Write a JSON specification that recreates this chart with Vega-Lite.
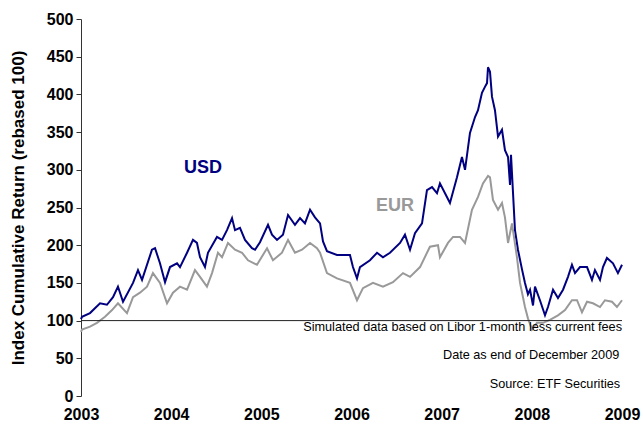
{
  "$schema": "https://vega.github.io/schema/vega-lite/v6.json",
  "width": 541,
  "height": 377,
  "autosize": {"type": "none"},
  "padding": {"left": 81, "top": 19, "right": 21, "bottom": 34},
  "background": "white",
  "config": {
    "view": {"stroke": null},
    "font": "Liberation Sans",
    "axis": {"grid": false, "labelFont": "Liberation Sans", "titleFont": "Liberation Sans"}
  },
  "resolve": {"axis": {"x": "independent", "y": "independent"}},
  "datasets": {
    "series": [
      {"series": "USD", "t": 2003.000, "v": 102},
      {"series": "USD", "t": 2003.011, "v": 105},
      {"series": "USD", "t": 2003.100, "v": 110},
      {"series": "USD", "t": 2003.211, "v": 123},
      {"series": "USD", "t": 2003.288, "v": 121},
      {"series": "USD", "t": 2003.355, "v": 131},
      {"series": "USD", "t": 2003.410, "v": 145},
      {"series": "USD", "t": 2003.466, "v": 125},
      {"series": "USD", "t": 2003.577, "v": 150},
      {"series": "USD", "t": 2003.632, "v": 167},
      {"series": "USD", "t": 2003.677, "v": 154},
      {"series": "USD", "t": 2003.787, "v": 194},
      {"series": "USD", "t": 2003.821, "v": 196},
      {"series": "USD", "t": 2003.876, "v": 176},
      {"series": "USD", "t": 2003.932, "v": 151},
      {"series": "USD", "t": 2003.987, "v": 171},
      {"series": "USD", "t": 2004.065, "v": 176},
      {"series": "USD", "t": 2004.098, "v": 171},
      {"series": "USD", "t": 2004.176, "v": 190},
      {"series": "USD", "t": 2004.242, "v": 207},
      {"series": "USD", "t": 2004.286, "v": 203},
      {"series": "USD", "t": 2004.320, "v": 184},
      {"series": "USD", "t": 2004.375, "v": 171},
      {"series": "USD", "t": 2004.408, "v": 190},
      {"series": "USD", "t": 2004.508, "v": 211},
      {"series": "USD", "t": 2004.564, "v": 207},
      {"series": "USD", "t": 2004.619, "v": 220},
      {"series": "USD", "t": 2004.675, "v": 236},
      {"series": "USD", "t": 2004.708, "v": 220},
      {"series": "USD", "t": 2004.763, "v": 223},
      {"series": "USD", "t": 2004.819, "v": 207},
      {"series": "USD", "t": 2004.896, "v": 196},
      {"series": "USD", "t": 2004.930, "v": 194},
      {"series": "USD", "t": 2004.985, "v": 204},
      {"series": "USD", "t": 2005.074, "v": 227},
      {"series": "USD", "t": 2005.118, "v": 214},
      {"series": "USD", "t": 2005.174, "v": 207},
      {"series": "USD", "t": 2005.240, "v": 214},
      {"series": "USD", "t": 2005.296, "v": 240},
      {"series": "USD", "t": 2005.373, "v": 227},
      {"series": "USD", "t": 2005.429, "v": 236},
      {"series": "USD", "t": 2005.484, "v": 229},
      {"series": "USD", "t": 2005.540, "v": 247},
      {"series": "USD", "t": 2005.595, "v": 237},
      {"series": "USD", "t": 2005.651, "v": 229},
      {"series": "USD", "t": 2005.684, "v": 205},
      {"series": "USD", "t": 2005.728, "v": 192},
      {"series": "USD", "t": 2005.839, "v": 187},
      {"series": "USD", "t": 2005.983, "v": 187},
      {"series": "USD", "t": 2006.016, "v": 171},
      {"series": "USD", "t": 2006.061, "v": 156},
      {"series": "USD", "t": 2006.094, "v": 171},
      {"series": "USD", "t": 2006.205, "v": 180},
      {"series": "USD", "t": 2006.283, "v": 190},
      {"series": "USD", "t": 2006.349, "v": 184},
      {"series": "USD", "t": 2006.427, "v": 190},
      {"series": "USD", "t": 2006.538, "v": 203},
      {"series": "USD", "t": 2006.593, "v": 214},
      {"series": "USD", "t": 2006.649, "v": 194},
      {"series": "USD", "t": 2006.704, "v": 216},
      {"series": "USD", "t": 2006.782, "v": 229},
      {"series": "USD", "t": 2006.837, "v": 273},
      {"series": "USD", "t": 2006.893, "v": 277},
      {"series": "USD", "t": 2006.948, "v": 269},
      {"series": "USD", "t": 2006.981, "v": 282},
      {"series": "USD", "t": 2007.037, "v": 269},
      {"series": "USD", "t": 2007.092, "v": 256},
      {"series": "USD", "t": 2007.170, "v": 290},
      {"series": "USD", "t": 2007.225, "v": 317},
      {"series": "USD", "t": 2007.259, "v": 300},
      {"series": "USD", "t": 2007.314, "v": 349},
      {"series": "USD", "t": 2007.370, "v": 370},
      {"series": "USD", "t": 2007.403, "v": 379},
      {"series": "USD", "t": 2007.447, "v": 402},
      {"series": "USD", "t": 2007.480, "v": 410},
      {"series": "USD", "t": 2007.503, "v": 415},
      {"series": "USD", "t": 2007.514, "v": 436},
      {"series": "USD", "t": 2007.536, "v": 430},
      {"series": "USD", "t": 2007.558, "v": 397},
      {"series": "USD", "t": 2007.591, "v": 379},
      {"series": "USD", "t": 2007.625, "v": 344},
      {"series": "USD", "t": 2007.669, "v": 353},
      {"series": "USD", "t": 2007.702, "v": 326},
      {"series": "USD", "t": 2007.736, "v": 317},
      {"series": "USD", "t": 2007.758, "v": 280},
      {"series": "USD", "t": 2007.769, "v": 320},
      {"series": "USD", "t": 2007.813, "v": 220},
      {"series": "USD", "t": 2007.846, "v": 194},
      {"series": "USD", "t": 2007.891, "v": 168},
      {"series": "USD", "t": 2007.924, "v": 150},
      {"series": "USD", "t": 2007.957, "v": 135},
      {"series": "USD", "t": 2007.980, "v": 141},
      {"series": "USD", "t": 2008.013, "v": 120},
      {"series": "USD", "t": 2008.035, "v": 145},
      {"series": "USD", "t": 2008.090, "v": 127},
      {"series": "USD", "t": 2008.146, "v": 107},
      {"series": "USD", "t": 2008.179, "v": 118},
      {"series": "USD", "t": 2008.235, "v": 141},
      {"series": "USD", "t": 2008.290, "v": 130},
      {"series": "USD", "t": 2008.346, "v": 141},
      {"series": "USD", "t": 2008.401, "v": 158},
      {"series": "USD", "t": 2008.445, "v": 174},
      {"series": "USD", "t": 2008.479, "v": 163},
      {"series": "USD", "t": 2008.534, "v": 171},
      {"series": "USD", "t": 2008.612, "v": 171},
      {"series": "USD", "t": 2008.667, "v": 154},
      {"series": "USD", "t": 2008.700, "v": 167},
      {"series": "USD", "t": 2008.756, "v": 154},
      {"series": "USD", "t": 2008.789, "v": 171},
      {"series": "USD", "t": 2008.833, "v": 183},
      {"series": "USD", "t": 2008.900, "v": 176},
      {"series": "USD", "t": 2008.955, "v": 163},
      {"series": "USD", "t": 2009.000, "v": 174},
      {"series": "EUR", "t": 2003.000, "v": 85},
      {"series": "EUR", "t": 2003.011, "v": 88},
      {"series": "EUR", "t": 2003.100, "v": 92},
      {"series": "EUR", "t": 2003.177, "v": 97},
      {"series": "EUR", "t": 2003.266, "v": 105},
      {"series": "EUR", "t": 2003.344, "v": 114},
      {"series": "EUR", "t": 2003.410, "v": 123},
      {"series": "EUR", "t": 2003.510, "v": 110},
      {"series": "EUR", "t": 2003.577, "v": 131},
      {"series": "EUR", "t": 2003.654, "v": 137},
      {"series": "EUR", "t": 2003.732, "v": 145},
      {"series": "EUR", "t": 2003.798, "v": 163},
      {"series": "EUR", "t": 2003.876, "v": 150},
      {"series": "EUR", "t": 2003.954, "v": 123},
      {"series": "EUR", "t": 2004.020, "v": 137},
      {"series": "EUR", "t": 2004.098, "v": 145},
      {"series": "EUR", "t": 2004.176, "v": 141},
      {"series": "EUR", "t": 2004.264, "v": 167},
      {"series": "EUR", "t": 2004.320, "v": 158},
      {"series": "EUR", "t": 2004.397, "v": 145},
      {"series": "EUR", "t": 2004.453, "v": 163},
      {"series": "EUR", "t": 2004.519, "v": 190},
      {"series": "EUR", "t": 2004.564, "v": 184},
      {"series": "EUR", "t": 2004.630, "v": 203},
      {"series": "EUR", "t": 2004.708, "v": 194},
      {"series": "EUR", "t": 2004.786, "v": 190},
      {"series": "EUR", "t": 2004.852, "v": 180},
      {"series": "EUR", "t": 2004.952, "v": 174},
      {"series": "EUR", "t": 2005.063, "v": 196},
      {"series": "EUR", "t": 2005.129, "v": 180},
      {"series": "EUR", "t": 2005.229, "v": 190},
      {"series": "EUR", "t": 2005.296, "v": 207},
      {"series": "EUR", "t": 2005.373, "v": 190},
      {"series": "EUR", "t": 2005.451, "v": 194},
      {"series": "EUR", "t": 2005.540, "v": 203},
      {"series": "EUR", "t": 2005.617, "v": 196},
      {"series": "EUR", "t": 2005.651, "v": 190},
      {"series": "EUR", "t": 2005.728, "v": 163},
      {"series": "EUR", "t": 2005.839, "v": 156},
      {"series": "EUR", "t": 2005.983, "v": 150},
      {"series": "EUR", "t": 2006.061, "v": 127},
      {"series": "EUR", "t": 2006.127, "v": 143},
      {"series": "EUR", "t": 2006.238, "v": 150},
      {"series": "EUR", "t": 2006.349, "v": 145},
      {"series": "EUR", "t": 2006.460, "v": 151},
      {"series": "EUR", "t": 2006.571, "v": 163},
      {"series": "EUR", "t": 2006.649, "v": 158},
      {"series": "EUR", "t": 2006.760, "v": 171},
      {"series": "EUR", "t": 2006.870, "v": 198},
      {"series": "EUR", "t": 2006.959, "v": 200},
      {"series": "EUR", "t": 2006.981, "v": 184},
      {"series": "EUR", "t": 2007.070, "v": 203},
      {"series": "EUR", "t": 2007.126, "v": 211},
      {"series": "EUR", "t": 2007.203, "v": 211},
      {"series": "EUR", "t": 2007.259, "v": 203},
      {"series": "EUR", "t": 2007.336, "v": 247},
      {"series": "EUR", "t": 2007.403, "v": 264},
      {"series": "EUR", "t": 2007.458, "v": 282},
      {"series": "EUR", "t": 2007.514, "v": 292},
      {"series": "EUR", "t": 2007.536, "v": 290},
      {"series": "EUR", "t": 2007.569, "v": 260},
      {"series": "EUR", "t": 2007.625, "v": 247},
      {"series": "EUR", "t": 2007.669, "v": 256},
      {"series": "EUR", "t": 2007.702, "v": 237},
      {"series": "EUR", "t": 2007.736, "v": 203},
      {"series": "EUR", "t": 2007.780, "v": 229},
      {"series": "EUR", "t": 2007.835, "v": 184},
      {"series": "EUR", "t": 2007.869, "v": 150},
      {"series": "EUR", "t": 2007.924, "v": 118},
      {"series": "EUR", "t": 2007.957, "v": 103},
      {"series": "EUR", "t": 2008.002, "v": 88},
      {"series": "EUR", "t": 2008.057, "v": 97},
      {"series": "EUR", "t": 2008.124, "v": 97},
      {"series": "EUR", "t": 2008.201, "v": 101},
      {"series": "EUR", "t": 2008.290, "v": 107},
      {"series": "EUR", "t": 2008.368, "v": 114},
      {"series": "EUR", "t": 2008.445, "v": 127},
      {"series": "EUR", "t": 2008.501, "v": 127},
      {"series": "EUR", "t": 2008.556, "v": 111},
      {"series": "EUR", "t": 2008.612, "v": 125},
      {"series": "EUR", "t": 2008.678, "v": 123},
      {"series": "EUR", "t": 2008.756, "v": 118},
      {"series": "EUR", "t": 2008.811, "v": 127},
      {"series": "EUR", "t": 2008.889, "v": 125},
      {"series": "EUR", "t": 2008.944, "v": 118},
      {"series": "EUR", "t": 2009.000, "v": 127}
    ],
    "notes": [
      {"text": "Simulated data based on Libor 1-month less current fees", "t": 2009.0, "v": 92},
      {"text": "Date as end of December 2009", "t": 2008.97, "v": 54},
      {"text": "Source: ETF Securities", "t": 2008.98, "v": 16}
    ],
    "labels": [
      {"series": "USD", "t": 2004.353, "v": 303},
      {"series": "EUR", "t": 2006.482, "v": 252}
    ]
  },
  "layer": [
    {
      "data": {"name": "series"},
      "mark": {"type": "line", "strokeWidth": 2, "interpolate": "linear"},
      "encoding": {
        "x": {
          "field": "t", "type": "quantitative",
          "scale": {"domain": [2003, 2009], "nice": false, "zero": false},
          "axis": {
            "values": [2003, 2004, 2005, 2006, 2007, 2008, 2009],
            "format": "d", "title": null, "domain": false, "ticks": false,
            "labelFont": "Liberation Sans", "labelFontSize": 16, "labelFontWeight": "bold",
            "labelColor": "#000000", "labelPadding": 10, "labelFlush": false, "labelOverlap": false, "labelBound": false
          }
        },
        "y": {
          "field": "v", "type": "quantitative",
          "scale": {"domain": [0, 500], "nice": false},
          "axis": {
            "values": [0, 50, 100, 150, 200, 250, 300, 350, 400, 450, 500],
            "title": "Index Cumulative Return (rebased 100)",
            "titleFont": "Liberation Sans", "titleFontSize": 17, "titleFontWeight": "bold", "titleColor": "#000000",
            "titlePadding": 19,
            "labelFont": "Liberation Sans", "labelFontSize": 16, "labelFontWeight": "bold", "labelColor": "#000000",
            "labelPadding": 3, "tickSize": 5, "tickColor": "#333333", "domainColor": "#333333",
            "labelFlush": false, "labelOverlap": false, "labelBound": false
          }
        },
        "color": {
          "field": "series", "type": "nominal",
          "scale": {"domain": ["USD", "EUR"], "range": ["#000080", "#999999"]},
          "legend": null
        },
        "order": {"field": "t", "type": "quantitative"}
      }
    },
    {
      "data": {"values": [{}]},
      "mark": {"type": "rule", "color": "#222222", "strokeWidth": 1},
      "encoding": {
        "y": {"datum": 100, "type": "quantitative", "axis": null}
      }
    },
    {
      "data": {"name": "labels"},
      "mark": {"type": "text", "font": "Liberation Sans", "fontSize": 18, "fontWeight": "bold", "align": "center", "baseline": "middle"},
      "encoding": {
        "x": {"field": "t", "type": "quantitative", "axis": null},
        "y": {"field": "v", "type": "quantitative", "axis": null},
        "text": {"field": "series"},
        "color": {"field": "series", "type": "nominal", "legend": null}
      }
    },
    {
      "data": {"name": "notes"},
      "mark": {"type": "text", "font": "Liberation Sans", "fontSize": 12.7, "align": "right", "baseline": "middle", "color": "#000000"},
      "encoding": {
        "x": {"field": "t", "type": "quantitative", "axis": null},
        "y": {"field": "v", "type": "quantitative", "axis": null},
        "text": {"field": "text"}
      }
    }
  ]
}
